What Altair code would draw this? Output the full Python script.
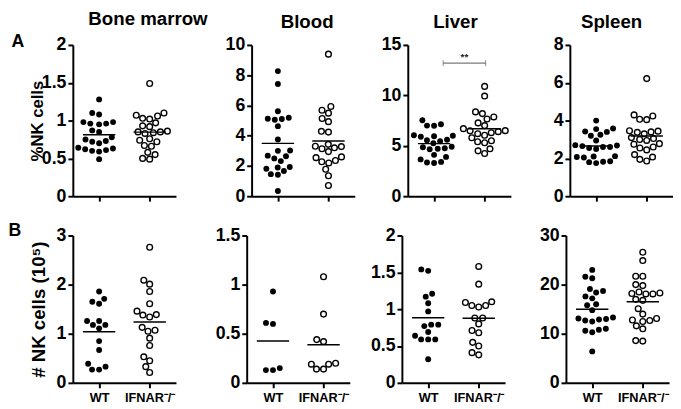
import altair as alt
import pandas as pd
import numpy as np

# ---------------- data ----------------
groups = ["WT", "IFNAR⁻/⁻"]

# Row A: % NK cells
bm_pct_wt = [1.28, 1.10, 1.08, 0.98, 0.96, 0.95, 0.96, 0.98, 0.87, 0.85, 0.73,
             0.70, 0.72, 0.64, 0.62, 0.60, 0.61, 0.63, 0.59, 0.49, 0.75, 0.78]
bm_pct_ko = [1.49, 1.10, 1.06, 1.03, 1.02, 1.07, 0.97, 0.93, 0.92, 0.86, 0.85,
             0.84, 0.83, 0.85, 0.76, 0.74, 0.72, 0.67, 0.66, 0.58, 0.55, 0.49, 0.50]
bl_pct_wt = [8.27, 7.42, 5.62, 5.19, 5.12, 5.10, 5.05, 4.63, 3.75, 3.02, 3.00,
             2.64, 2.68, 2.50, 2.32, 1.82, 1.93, 1.67, 1.46, 1.42, 1.90, 0.34]
bl_pct_ko = [9.39, 5.93, 5.68, 5.49, 5.14, 4.93, 4.29, 4.24, 3.43, 3.30, 3.20,
             3.14, 3.28, 2.95, 2.60, 2.55, 2.36, 2.20, 2.28, 1.78, 1.35, 0.71]
li_pct_wt = [7.53, 7.14, 7.00, 6.98, 6.05, 5.95, 5.90, 6.00, 5.60, 5.55, 5.45,
             5.25, 4.90, 4.75, 4.70, 4.65, 4.85, 4.10, 3.90, 3.65, 3.35, 3.30, 3.40]
li_pct_ko = [10.89, 9.93, 8.36, 8.19, 7.86, 7.66, 7.27, 7.00, 6.70, 6.50, 6.48,
             6.40, 6.20, 6.30, 6.05, 5.80, 5.50, 5.40, 5.30, 4.70, 4.50, 4.24]
sp_pct_wt = [4.00, 3.58, 3.55, 3.42, 3.40, 3.25, 3.20, 2.95, 2.70, 2.68, 2.65,
             2.60, 2.50, 2.60, 2.55, 2.12, 2.10, 2.05, 2.07, 1.85, 1.80, 1.75, 1.82]
sp_pct_ko = [6.22, 4.30, 4.24, 4.07, 4.05, 3.46, 3.44, 3.40, 3.38, 3.30, 3.10,
             3.05, 3.00, 2.95, 2.78, 2.75, 2.60, 2.55, 2.45, 2.20, 2.07, 1.95, 1.86]

# Row B: # NK cells (10^5)
bm_num_wt = [1.86, 1.71, 1.65, 1.61, 1.26, 1.18, 1.11, 1.18, 1.26, 0.85, 0.67,
             0.33, 0.27, 0.27, 0.39]
bm_num_ko = [2.76, 2.09, 2.01, 1.86, 1.61, 1.39, 1.34, 1.38, 1.46, 1.07, 1.05,
             1.13, 0.91, 0.76, 0.53, 0.45, 0.33, 0.21]
bl_num_wt = [0.93, 0.61, 0.60, 0.15, 0.13, 0.13]
bl_num_ko = [1.08, 0.70, 0.44, 0.42, 0.20, 0.19, 0.14, 0.14, 0.19]
li_num_wt = [1.54, 1.52, 1.21, 1.17, 1.08, 0.97, 0.79, 0.77, 0.79, 0.69, 0.64,
             0.59, 0.59, 0.59, 0.32]
li_num_ko = [1.58, 1.34, 1.10, 1.05, 1.03, 1.05, 1.09, 0.88, 0.88, 0.80, 0.71,
             0.68, 0.55, 0.50, 0.38, 0.41]
sp_num_wt = [23.0, 21.6, 21.3, 19.1, 18.7, 18.4, 17.6, 17.2, 16.0, 15.8, 14.8,
             13.3, 13.0, 12.7, 12.5, 13.1, 12.9, 11.0, 10.8, 10.3, 10.6, 6.4]
sp_num_ko = [26.6, 24.9, 21.7, 21.7, 19.8, 20.0, 18.3, 18.1, 18.5, 18.1, 18.2,
             17.0, 16.8, 15.1, 14.0, 12.7, 12.8, 13.1, 12.5, 11.6, 11.0, 8.5, 8.6]

# significance bracket (liver, %NK)
sig_from = [0.18]
sig_to = [1.02]
sig_y = [13.2]
sig_label = ["**"]

FONT = "Liberation Sans"
W = 105
XDOM = [-0.52, 1.52]
PXX = W / (XDOM[1] - XDOM[0])


def swarm(values, ppy, diam=7.2):
    """deterministic beeswarm offsets (in x-units)"""
    order = sorted(range(len(values)), key=lambda i: values[i])
    placed = []
    offs = [0.0] * len(values)
    for i in order:
        y = values[i] * ppy
        forb = []
        for px, py in placed:
            dy = abs(py - y)
            if dy < diam:
                h = (diam ** 2 - dy ** 2) ** 0.5
                forb.append((px - h, px + h))
        cands = [0.0] + [a for a, b in forb] + [b for a, b in forb]
        cands.sort(key=lambda c: (round(abs(c), 6), c))
        xx = 0.0
        for c in cands:
            if all(not (a + 1e-6 < c < b - 1e-6) for a, b in forb):
                xx = c
                break
        placed.append((xx, y))
        offs[i] = xx / PXX
    return offs


def panel(wt, ko, ymax, ystep, height, title=None, tdx=0, ytitle=None,
          ytsize=17, ytx=-31, letter=None, letter_x=-56, letter_y=2,
          xlabels=False, sig=False):
    ppy = height / ymax
    rows = []
    for g, vals in enumerate([wt, ko]):
        offs = swarm(vals, ppy)
        for v, o in zip(vals, offs):
            rows.append({"group": g, "value": v, "xpos": g + o})
    df = pd.DataFrame(rows)
    base = alt.Chart(df)

    xaxis = alt.Axis(values=[0, 1], labels=xlabels, title=None,
                     labelExpr="datum.value == 0 ? 'WT' : 'IFNAR⁻/⁻'",
                     labelFontSize=13, labelPadding=4)
    yvals = [round(v, 6) for v in np.arange(0, ymax + 1e-9, ystep)]
    if ytitle:
        yaxis = alt.Axis(values=yvals, format="~r", title=ytitle,
                         titleFontSize=ytsize,
                         titleX=ytx, titleY=height / 2, titleAngle=270,
                         titleBaseline="alphabetic", titleAlign="center")
    else:
        yaxis = alt.Axis(values=yvals, format="~r", title=None)
    xs = alt.Scale(domain=XDOM, nice=False, zero=False)
    ys = alt.Scale(domain=[0, ymax], nice=False, zero=True)

    filled = base.transform_filter("datum.group == 0").mark_circle(
        size=36, color="black", opacity=1).encode(
        x=alt.X("xpos:Q", scale=xs, axis=xaxis),
        y=alt.Y("value:Q", scale=ys, axis=yaxis))
    opened = base.transform_filter("datum.group == 1").mark_point(
        shape="circle", filled=False, size=34, color="black", strokeWidth=1.4,
        opacity=1).encode(
        x=alt.X("xpos:Q", scale=xs, axis=xaxis),
        y=alt.Y("value:Q", scale=ys, axis=yaxis))
    mean = base.transform_aggregate(m="mean(value)", groupby=["group"]).transform_calculate(
        x1="datum.group - 0.32", x2="datum.group + 0.32").mark_rule(
        color="black", strokeWidth=1.5).encode(
        x=alt.X("x1:Q", scale=xs, axis=xaxis), x2="x2:Q",
        y=alt.Y("m:Q", scale=ys, axis=yaxis))
    layers = [mean, filled, opened]

    if sig:
        sdf = pd.DataFrame({"a": sig_from, "b": sig_to, "y": sig_y, "t": sig_label})
        sb = alt.Chart(sdf)
        layers.append(sb.mark_rule(color="#555555", strokeWidth=1).encode(
            x=alt.X("a:Q", scale=xs, axis=xaxis), x2="b:Q",
            y=alt.Y("y:Q", scale=ys, axis=yaxis)))
        for fld in ["a", "b"]:
            layers.append(sb.mark_tick(orient="vertical", size=6, thickness=1,
                                       color="#555555").encode(
                x=alt.X(f"{fld}:Q", scale=xs, axis=xaxis),
                y=alt.Y("y:Q", scale=ys, axis=yaxis)))
        layers.append(sb.transform_calculate(mid="(datum.a + datum.b) / 2").mark_text(
            font=FONT, fontSize=10, fontWeight="bold", baseline="bottom", dy=-1,
            color="#222222").encode(
            x=alt.X("mid:Q", scale=xs, axis=xaxis),
            y=alt.Y("y:Q", scale=ys, axis=yaxis), text="t:N"))

    if letter:
        ldf = pd.DataFrame({"t": [letter]})
        layers.append(alt.Chart(ldf).mark_text(
            font=FONT, fontSize=18, fontWeight="bold", baseline="alphabetic",
            align="center", color="black").encode(
            text="t:N", x=alt.value(letter_x), y=alt.value(letter_y)))

    props = dict(width=W, height=height)
    if title:
        props["title"] = alt.TitleParams(title, font=FONT, fontSize=19,
                                         fontWeight="bold", color="black",
                                         anchor="middle", frame="group", dx=tdx,
                                         offset=4)
    return alt.layer(*layers).properties(**props)


HA, HB = 154, 150

a1 = panel(bm_pct_wt, bm_pct_ko, 2, 0.5, HA, "Bone marrow", 24, "%NK cells",
           ytsize=17, ytx=-31, letter="A", letter_x=-56, letter_y=2)
a2 = panel(bl_pct_wt, bl_pct_ko, 10, 2, HA, "Blood", 4)
a3 = panel(li_pct_wt, li_pct_ko, 15, 5, HA, "Liver", -4, sig=True)
a4 = panel(sp_pct_wt, sp_pct_ko, 8, 2, HA, "Spleen", -10)

b1 = panel(bm_num_wt, bm_num_ko, 3, 1, HB, ytitle="# NK cells (10⁵)",
           ytsize=19, ytx=-29, letter="B", letter_x=-59, letter_y=0, xlabels=True)
b2 = panel(bl_num_wt, bl_num_ko, 1.5, 0.5, HB, xlabels=True)
b3 = panel(li_num_wt, li_num_ko, 2, 0.5, HB, xlabels=True)
b4 = panel(sp_num_wt, sp_num_ko, 30, 10, HB, xlabels=True)

rowA = alt.hconcat(alt.hconcat(alt.hconcat(a1, a2, spacing=16), a3, spacing=26), a4, spacing=42)
rowB = alt.hconcat(alt.hconcat(alt.hconcat(b1, b2, spacing=39), b3, spacing=20), b4, spacing=34)

chart = alt.vconcat(rowA, rowB, spacing=17).properties(
    padding={"left": 0, "top": -1, "right": 0, "bottom": 0},
    background="white",
).configure_view(stroke=None).configure_axis(
    grid=False,
    labelFont=FONT, labelFontWeight="bold", labelColor="black",
    labelFontSize=18, labelPadding=2,
    titleFont=FONT, titleFontWeight="bold", titleColor="black",
    domainColor="black", domainWidth=2, tickColor="black",
    tickWidth=2, tickSize=5,
).configure_axisX(labelFontSize=13, labelPadding=4)

chart.save("out.html", embed_options={"renderer": "svg", "actions": False})
